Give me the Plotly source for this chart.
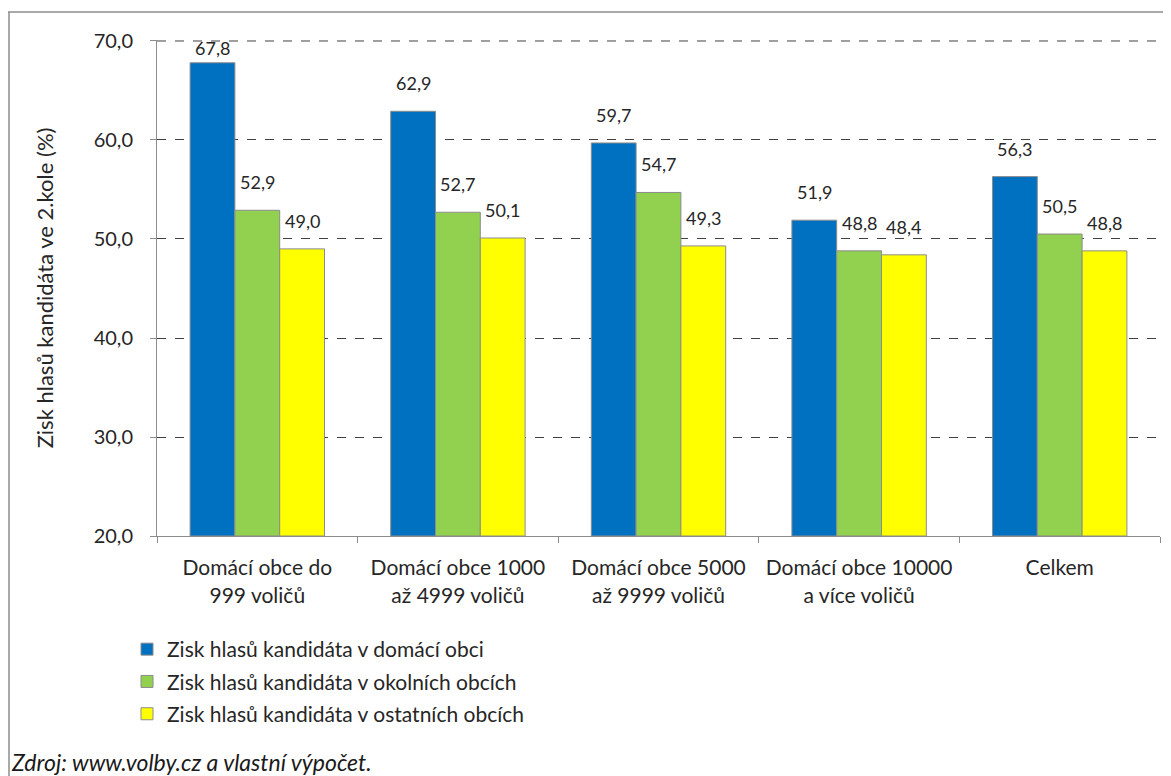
import plotly.graph_objects as go

categories = ["Domácí obce do<br>999 voličů", "Domácí obce 1000<br>až 4999 voličů",
              "Domácí obce 5000<br>až 9999 voličů", "Domácí obce 10000<br>a více voličů", "Celkem"]
series_names = ["Zisk hlasů kandidáta v domácí obci",
                "Zisk hlasů kandidáta v okolních obcích",
                "Zisk hlasů kandidáta v ostatních obcích"]
domaci = [67.8, 62.9, 59.7, 51.9, 56.3]
okolni = [52.9, 52.7, 54.7, 48.8, 50.5]
ostatni = [49.0, 50.1, 49.3, 48.4, 48.8]
y_ticks = [20, 30, 40, 50, 60, 70]
colors = ["#0070C0", "#92D050", "#FFFF00"]

# page body has an 8px margin; work in reference-pixel coordinates and shift
OFF = 8
W, H = 1171 - OFF, 776 - OFF
L, R, T, B = 157, 1160, 40, 536          # plot area in reference pixels
YMIN, YMAX = 20, 70.1
BARGAP = 0.33
FONT = "Lato, Open Sans, sans-serif"
TXT = "#262626"
GRID = "#404040"

def px_x(p):
    return (p - L) / (R - L)

def px_y(p):
    return (B - p) / (B - T)

fig = go.Figure()
all_vals = [domaci, okolni, ostatni]
for i, (name, vals) in enumerate(zip(series_names, all_vals)):
    fig.add_trace(go.Bar(
        x=categories, y=[v - YMIN for v in vals], base=YMIN, name=name,
        marker=dict(color=colors[i], line=dict(color="#8C8C8C", width=1)),
        legendgroup=f"g{i}", hoverinfo="x+y",
    ))

# value labels above bars
ppu = (B - T) / (YMAX - YMIN)
cat_w = (R - L) / len(categories)
bar_w = cat_w * (1 - BARGAP) / 3
annotations = []
for i, vals in enumerate(all_vals):
    for c, v in zip(categories, vals):
        room = (YMAX - v) * ppu - 24
        shift = max(2, min(15, room))
        annotations.append(dict(
            x=c, y=v, xref="x", yref="y", xshift=(i - 1) * bar_w, yshift=shift,
            text=f"{v:.1f}".replace(".", ","), showarrow=False,
            xanchor="center", yanchor="bottom",
            font=dict(family=FONT, size=18, color=TXT)))

annotations.append(dict(text="<i>Zdroj: www.volby.cz a vlastní výpočet.</i>",
                        x=px_x(9), y=px_y(762), xref="paper", yref="paper",
                        xanchor="left", yanchor="middle", showarrow=False,
                        font=dict(family=FONT, size=23, color="#1a1a1a")))

fig.update_layout(
    width=W, height=H,
    margin=dict(l=L - OFF, r=W - (R - OFF), t=T - OFF, b=H - (B - OFF), autoexpand=False),
    paper_bgcolor="white", plot_bgcolor="white",
    barmode="group", bargap=BARGAP, bargroupgap=0,
    separators=", ",
    font=dict(family=FONT, color=TXT),
    showlegend=True,
    legend=dict(orientation="v", x=px_x(127), y=px_y(629), xanchor="left", yanchor="top",
                font=dict(size=21, color=TXT), tracegroupgap=2,
                itemwidth=30, bgcolor="rgba(0,0,0,0)"),
    xaxis=dict(showline=True, linecolor="#8C8C8C", linewidth=1,
               ticks="outside", ticklen=6, tickcolor="#8C8C8C", tickson="boundaries",
               tickfont=dict(size=21, color=TXT), ticklabelstandoff=13, showgrid=False),
    yaxis=dict(range=[YMIN, YMAX], tickvals=y_ticks, tickformat=".1f",
               showline=True, linecolor="#8C8C8C", linewidth=1,
               ticks="outside", ticklen=6, tickcolor="#8C8C8C", ticklabelstandoff=13,
               showgrid=True, gridcolor=GRID, griddash="dash", gridwidth=1,
               tickfont=dict(size=20, color=TXT),
               title=dict(text="Zisk hlasů kandidáta ve 2.kole (%)",
                          font=dict(size=22, color=TXT), standoff=33),
               zeroline=False),
    annotations=annotations,
    shapes=[
        dict(type="line", xref="paper", yref="y", x0=0, x1=1, y0=y_ticks[-1], y1=y_ticks[-1],
             line=dict(color=GRID, width=1, dash="dash"), layer="below"),
        dict(type="line", xref="paper", yref="paper", x0=px_x(8), x1=px_x(1200),
             y0=px_y(12), y1=px_y(12), line=dict(color="#8C8C8C", width=1.5)),
        dict(type="line", xref="paper", yref="paper", x0=px_x(9), x1=px_x(9),
             y0=px_y(12), y1=px_y(800), line=dict(color="#8C8C8C", width=1.5)),
    ],
)

fig.write_html("out.html")
